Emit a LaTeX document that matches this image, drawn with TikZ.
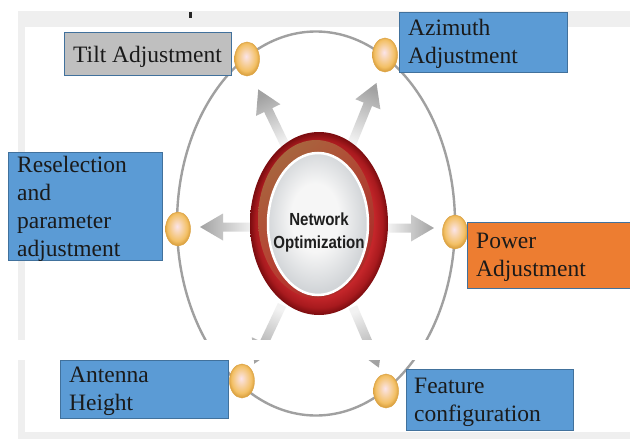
\documentclass[tikz,border=0pt]{standalone}
\usepackage{fontspec}
\setmainfont{Liberation Serif}
\newfontfamily\netfont[FakeStretch=0.86]{Liberation Sans}
\usetikzlibrary{shapes.geometric,shadings}

% palette
\definecolor{framegrey}{HTML}{EFEFEF}
\definecolor{orbitgrey}{HTML}{A0A0A0}
\definecolor{boxblue}{HTML}{5B9BD5}
\definecolor{boxedge}{HTML}{41719C}
\definecolor{boxgrey}{HTML}{BFBFBF}
\definecolor{boxorange}{HTML}{ED7D31}
\definecolor{arrowlight}{HTML}{F2F2F2}
\definecolor{arrowdark}{HTML}{A2A2A2}
\definecolor{dotcore}{HTML}{FBE4EA}
\definecolor{dotmid}{HTML}{F8D6B4}
\definecolor{dotrim}{HTML}{F3C065}
\definecolor{dotedge}{HTML}{DDA444}
\definecolor{ringred}{HTML}{C4262A}
\definecolor{ringmid}{HTML}{A81A1E}
\definecolor{ringdark}{HTML}{7A0C0F}
\definecolor{ringgold}{HTML}{A27242}
\definecolor{disccentre}{HTML}{F6F6F6}
\definecolor{discedge}{HTML}{D2D5D8}
\definecolor{labelink}{HTML}{1A1A1A}
\definecolor{coreink}{HTML}{1E1E1E}

% shadings for the knobs, the red ring and the inner disc
\pgfdeclareradialshading{dotshade}{\pgfpoint{-2bp}{4bp}}{%
  color(0bp)=(dotcore); color(8bp)=(dotmid); color(20bp)=(dotrim);
  color(25bp)=(dotedge); color(50bp)=(dotedge)}
\pgfdeclareradialshading{ringshade}{\pgfpointorigin}{%
  color(0bp)=(ringred); color(20bp)=(ringred); color(23bp)=(ringmid);
  color(25bp)=(ringdark); color(50bp)=(ringdark)}
\pgfdeclareradialshading{discshade}{\pgfpoint{-2bp}{3bp}}{%
  color(0bp)=(disccentre); color(12bp)=(disccentre);
  color(25bp)=(discedge); color(50bp)=(discedge)}

% broad arrow: tail point, direction (degrees, page), overall length
\newcommand\broadarrow[4]{%
  \begin{scope}[shift={(#1,#2)}, rotate=#3]
    \shade[top color=arrowdark, bottom color=arrowlight, shading angle=#3-90]
      (0,-4.5) -- ({#4-23},-4.5) -- ({#4-23},-13.5) -- (#4,0)
      -- ({#4-23},13.5) -- ({#4-23},4.5) -- (0,4.5) -- cycle;
  \end{scope}}

\begin{document}
\begin{tikzpicture}[x=1pt,y=-1pt,
  card/.style={draw=boxedge, line width=0.6pt, inner sep=0pt, anchor=north west},
  cardtext/.style={font=\fontsize{23.5}{28}\selectfont, text=labelink,
    align=left, inner sep=0pt, anchor=base west},
  knob/.style={ellipse, minimum width=25pt, minimum height=34pt, inner sep=0pt,
    shading=dotshade, draw=dotedge, line width=0.5pt}]

\clip (0,0) rectangle (630,439);

% page and frame
\fill[white] (0,0) rectangle (630,439);
\fill[framegrey] (18,11) rectangle (630,439);
\fill[white] (25,27) rectangle (630,432);
\fill[black!85] (189,12) rectangle (192,18);

% orbit
\draw[orbitgrey, line width=2.4pt] (316,223.5) ellipse [x radius=139, y radius=192];

% arrows leaving the centre
\broadarrow{252}{227}{180}{52}
\broadarrow{388}{228}{0}{46}
\broadarrow{286}{147}{115.7}{64}
\broadarrow{351}{146}{68}{68}
\broadarrow{282}{305}{244.7}{65}
\broadarrow{353}{307}{293.1}{66}

% centre ring
\shade[shading=ringshade] (319,223.5) ellipse [x radius=69, y radius=91.5];
\shade[upper left=ringgold, upper right=ringgold!50!ringred,
       lower left=ringgold!25!ringred, lower right=ringred!85!black]
  (316,219) ellipse [x radius=58, y radius=79];
\shadedraw[shading=discshade, draw=white, line width=2.5pt]
  (318,224) ellipse [x radius=50, y radius=71];
\node[font=\netfont\bfseries\fontsize{17.5}{23}\selectfont, text=coreink,
      align=center, inner sep=0pt] (core) at (319,232) {Network\\Optimization};

% gap between the two halves
\fill[white] (0,340) rectangle (630,360);

% knobs on the orbit
\node[knob] (kTilt)    at (247,59)  {};
\node[knob] (kAzimuth) at (385,55)  {};
\node[knob] (kResel)   at (178,229) {};
\node[knob] (kPower)   at (455,232) {};
\node[knob] (kAntenna) at (242,381) {};
\node[knob] (kFeature) at (386,391) {};

% labels (the base anchor sits on the last line)
\node[card, fill=boxgrey, minimum width=167pt, minimum height=43pt] (bTilt) at (64,32) {};
\node[cardtext] (tTilt) at ([shift={(9,30)}]bTilt.north west) {Tilt Adjustment};

\node[card, fill=boxblue, minimum width=168pt, minimum height=60pt] (bAzimuth) at (399,12) {};
\node[cardtext] (tAzimuth) at ([shift={(9,51)}]bAzimuth.north west) {Azimuth\\Adjustment};

\node[card, fill=boxblue, minimum width=154pt, minimum height=108pt] (bResel) at (8,152) {};
\node[cardtext] (tResel) at ([shift={(9,104)}]bResel.north west) {Reselection\\and\\parameter\\adjustment};

\node[card, fill=boxorange, minimum width=175pt, minimum height=66pt] (bPower) at (467,222) {};
\node[cardtext] (tPower) at ([shift={(9,54)}]bPower.north west) {Power\\Adjustment};

\node[card, fill=boxblue, minimum width=168pt, minimum height=58pt] (bAntenna) at (60,360) {};
\node[cardtext] (tAntenna) at ([shift={(9,50)}]bAntenna.north west) {Antenna\\Height};

\node[card, fill=boxblue, minimum width=167pt, minimum height=61pt] (bFeature) at (406,369) {};
\node[cardtext] (tFeature) at ([shift={(8,52)}]bFeature.north west) {Feature\\configuration};

\end{tikzpicture}
\end{document}
